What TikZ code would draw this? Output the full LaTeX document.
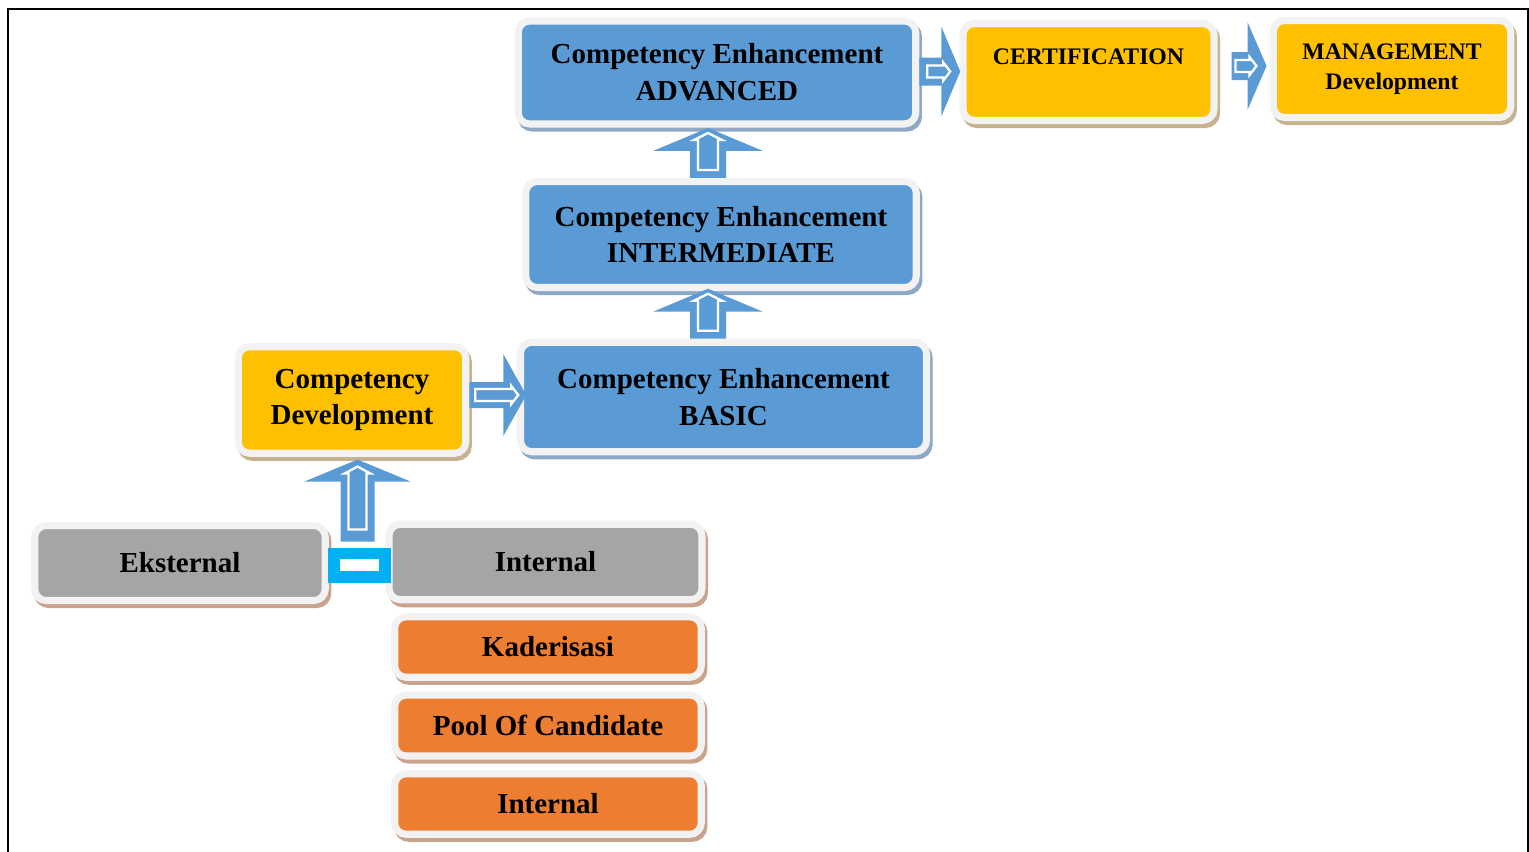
\documentclass[tikz,border=0pt]{standalone}
\usepackage{fontspec}
\setmainfont{Liberation Serif}
\usetikzlibrary{calc}

\definecolor{boxblue}{HTML}{5B9BD5}
\definecolor{boxgold}{HTML}{FFC000}
\definecolor{boxgray}{HTML}{A5A5A5}
\definecolor{boxorange}{HTML}{ED7D31}
\definecolor{rim}{HTML}{F2F2F2}
\definecolor{linkcyan}{HTML}{00B0F0}
\definecolor{shblue}{HTML}{8EA8C8}
\definecolor{shtan}{HTML}{C6B38E}
\definecolor{shbrown}{HTML}{C9A38C}

\newcommand{\pix}{0.02cm}

\tikzset{
  card/.style 2 args={rectangle, rounded corners=6.5pt, draw=rim, line width=4pt, fill=#1, inner sep=0pt, align=center,
    preaction={draw=#2, fill=#2, line width=4pt, transform canvas={xshift=1.5pt, yshift=-2.3pt}}},
  boxsize/.style 2 args={minimum width=#1*\pix, minimum height=#2*\pix},
  bigtext/.style={font=\bfseries\fontsize{16.5}{21}\selectfont},
  smalltext/.style={font=\bfseries\fontsize{13.5}{17}\selectfont},
  blockarrow/.style={fill=boxblue},
  arrowline/.style={draw=white, line width=1.3pt, line join=miter},
}

\begin{document}
\begin{tikzpicture}[x=\pix, y=-\pix]
\useasboundingbox (0,0) rectangle (1529,852);
\draw[line width=1.2pt] (8,852) |- (1528,9) -- (1528,852);

% boxes
\node[card={boxblue}{shblue}, boxsize={397.5}{103}, bigtext] (adv) at (717,72.5) {Competency Enhancement\\ADVANCED};
\node[card={boxblue}{shblue}, boxsize={390.5}{106}, bigtext] (inter) at (721,234.5) {Competency Enhancement\\INTERMEDIATE};
\node[card={boxblue}{shblue}, boxsize={406}{109.5}, bigtext] (basic) at (723.5,397) {Competency Enhancement\\BASIC};
\node[card={boxgold}{shtan}, boxsize={227.5}{106.5}, bigtext] (cdev) at (352,400) {Competency\\Development};
\node[card={boxgold}{shtan}, boxsize={251}{97}, smalltext] (cert) at (1088.5,72) {CERTIFICATION\\\mbox{}};
\node[card={boxgold}{shtan}, boxsize={237.5}{97}, smalltext] (mgmt) at (1392,69) {MANAGEMENT\\Development};
\node[card={boxgray}{shbrown}, boxsize={290.5}{75}, bigtext] (ext) at (180,563) {Eksternal};
\node[card={boxgray}{shbrown}, boxsize={313}{75.5}, bigtext] (int) at (545.5,562) {Internal};
\node[card={boxorange}{shbrown}, boxsize={306.5}{60.5}, bigtext] (kad) at (548,647) {Kaderisasi};
\node[card={boxorange}{shbrown}, boxsize={306.5}{61}, bigtext] (pool) at (548,725.5) {Pool Of Candidate};
\node[card={boxorange}{shbrown}, boxsize={306.5}{60.5}, bigtext] (intk) at (548,804) {Internal};

% link between eksternal and internal
\node[draw=linkcyan, fill=white, line width=6.8pt, minimum width=51*\pix, minimum height=23.5*\pix, inner sep=0pt] (lnk) at (359.5,565.25) {};

% up arrows between the enhancement levels
\coordinate (ux) at (708,0);
\coordinate (t1) at (ux |- inter.north);
\coordinate (t2) at (ux |- basic.north);
\foreach \t in {t1,t2} {
  \fill[blockarrow] ($(\t)+(-18,0)$) -- ++(0,-27) -- ++(-37,0) -- ++(55,-23) -- ++(55,23) -- ++(-37,0) -- ++(0,27) -- cycle;
  \draw[arrowline] ($(\t)+(-10,-8)$) -- ++(0,-30) -- ++(-4,0) -- ++(14,-7) -- ++(14,7) -- ++(-4,0) -- ++(0,30) -- cycle;
}

% up arrow into competency development
\coordinate (t3) at ($(lnk.north)+(-2,-6)$);
\fill[blockarrow] ($(t3)+(-17,0)$) -- ++(0,-60) -- ++(-36,0) -- ++(53,-22) -- ++(53,22) -- ++(-36,0) -- ++(0,60) -- cycle;
\draw[arrowline] ($(t3)+(-9,-12)$) -- ++(0,-56) -- ++(-4,0) -- ++(13,-7) -- ++(13,7) -- ++(-4,0) -- ++(0,56) -- cycle;

% right arrows
\coordinate (r1) at ($(cdev.east)+(0,-5)$);
\fill[blockarrow] ($(r1)+(0,-13)$) -- ++(34,0) -- ++(0,-28) -- ++(23,41) -- ++(-23,41) -- ++(0,-28) -- ++(-34,0) -- cycle;
\draw[arrowline] ($(r1)+(6,-6)$) -- ++(36,0) -- ++(0,-3) -- ++(7,9) -- ++(-7,9) -- ++(0,-3) -- ++(-36,0) -- cycle;

\coordinate (r2) at ($(adv.east)+(0,-1)$);
\fill[blockarrow] ($(r2)+(0,-14)$) -- ++(22,0) -- ++(0,-31) -- ++(19,45) -- ++(-19,45) -- ++(0,-31) -- ++(-22,0) -- cycle;
\draw[arrowline] ($(r2)+(8,-6)$) -- ++(16,0) -- ++(0,-3) -- ++(7,9) -- ++(-7,9) -- ++(0,-3) -- ++(-16,0) -- cycle;

\coordinate (r3) at ($(cert.east)+(14,-6)$);
\fill[blockarrow] ($(r3)+(0,-14)$) -- ++(16,0) -- ++(0,-30) -- ++(19,44) -- ++(-19,44) -- ++(0,-30) -- ++(-16,0) -- cycle;
\draw[arrowline] ($(r3)+(4,-6)$) -- ++(14,0) -- ++(0,-3) -- ++(7,9) -- ++(-7,9) -- ++(0,-3) -- ++(-14,0) -- cycle;
\end{tikzpicture}
\end{document}
